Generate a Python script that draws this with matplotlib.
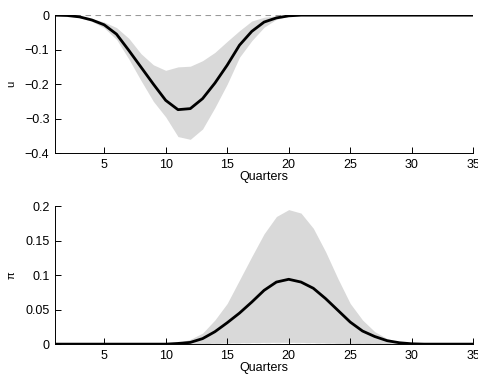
import numpy as np
import matplotlib
matplotlib.use("Agg")
from matplotlib import pyplot as plt

plt.rcParams['font.family'] = ['Liberation Sans', 'DejaVu Sans']

quarters = np.arange(1, 36)

# u: median response and band
u_mid = [0, -0.001, -0.005, -0.014, -0.028, -0.055, -0.102, -0.151, -0.2, -0.247,
         -0.274, -0.271, -0.242, -0.197, -0.145, -0.087, -0.047, -0.02, -0.008, -0.002,
         0, 0, 0, 0, 0, 0, 0, 0, 0, 0, 0, 0, 0, 0, 0]
u_hi = [0, -0.001, -0.004, -0.01, -0.02, -0.036, -0.067, -0.112, -0.144, -0.16,
        -0.15, -0.148, -0.132, -0.108, -0.076, -0.045, -0.017, -0.006, -0.002, -0.001,
        0, 0, 0, 0, 0, 0, 0, 0, 0, 0, 0, 0, 0, 0, 0]
u_lo = [0, -0.002, -0.007, -0.018, -0.037, -0.07, -0.127, -0.19, -0.25, -0.295,
        -0.352, -0.36, -0.33, -0.268, -0.2, -0.122, -0.074, -0.035, -0.012, -0.003,
        -0.001, 0, 0, 0, 0, 0, 0, 0, 0, 0, 0, 0, 0, 0, 0]

# pi: median response and band
pi_mid = [0, 0, 0, 0, 0, 0, 0, 0, 0, 0,
          0.001, 0.0025, 0.008, 0.018, 0.031, 0.045, 0.061, 0.078, 0.09, 0.094,
          0.09, 0.081, 0.066, 0.049, 0.032, 0.019, 0.011, 0.005, 0.002, 0.0005,
          0, 0, 0, 0, 0]
pi_hi = [0, 0, 0, 0, 0, 0, 0, 0, 0, 0.0005,
         0.002, 0.007, 0.016, 0.035, 0.059, 0.093, 0.127, 0.16, 0.185, 0.195,
         0.19, 0.168, 0.134, 0.095, 0.059, 0.035, 0.018, 0.008, 0.003, 0.001,
         0, 0, 0, 0, 0]
pi_lo = [0, 0, 0, 0, 0, 0, 0, 0, 0, 0,
         0, 0.0003, 0.0008, 0.0012, 0.0016, 0.002, 0.0023, 0.0025, 0.0026, 0.0026,
         0.0025, 0.0022, 0.0018, 0.0013, 0.0008, 0.0004, 0.0002, 0, 0, 0,
         0, 0, 0, 0, 0]

x_ticks = [5, 10, 15, 20, 25, 30, 35]
u_ticks = [0, -0.1, -0.2, -0.3, -0.4]
u_labels = ["0", "\u22120.1", "\u22120.2", "\u22120.3", "\u22120.4"]
pi_ticks = [0, 0.05, 0.1, 0.15, 0.2]
pi_labels = ["0", "0.05", "0.1", "0.15", "0.2"]


def style_axes(ax, yticks, ylabels, ylim, ylabel):
    ax.set_xlim(1, 35)
    ax.set_ylim(*ylim)
    ax.set_xticks(x_ticks)
    ax.set_yticks(yticks)
    ax.set_yticklabels(ylabels)
    ax.spines['top'].set_visible(False)
    ax.spines['right'].set_visible(False)
    for s in ('left', 'bottom'):
        ax.spines[s].set_linewidth(0.7)
    ax.tick_params(direction='in', length=4, labelsize=9, width=0.7, pad=4)
    ax.set_xlabel("Quarters", fontsize=9, labelpad=0)
    ax.set_ylabel(ylabel, fontsize=8, labelpad=6)


fig = plt.figure(figsize=(4.78, 3.79), dpi=100)

ax1 = fig.add_axes([0.115, 0.596, 0.875, 0.364])
ax1.fill_between(quarters, u_lo, u_hi, color='#d9d9d9', lw=0)
ax1.axhline(0, color='0.6', lw=0.8, ls=(0, (5, 4)))
ax1.plot(quarters, u_mid, color='k', lw=2.0)
style_axes(ax1, u_ticks, u_labels, (-0.4, 0), "u")

ax2 = fig.add_axes([0.115, 0.092, 0.875, 0.364])
ax2.fill_between(quarters, pi_lo, pi_hi, color='#d9d9d9', lw=0)
ax2.axhline(0, color='0.3', lw=0.8, ls=(0, (5, 4)))
ax2.plot(quarters, pi_mid, color='k', lw=2.0)
style_axes(ax2, pi_ticks, pi_labels, (0, 0.2), "\u03c0")

fig.savefig("out.png", dpi=100)
